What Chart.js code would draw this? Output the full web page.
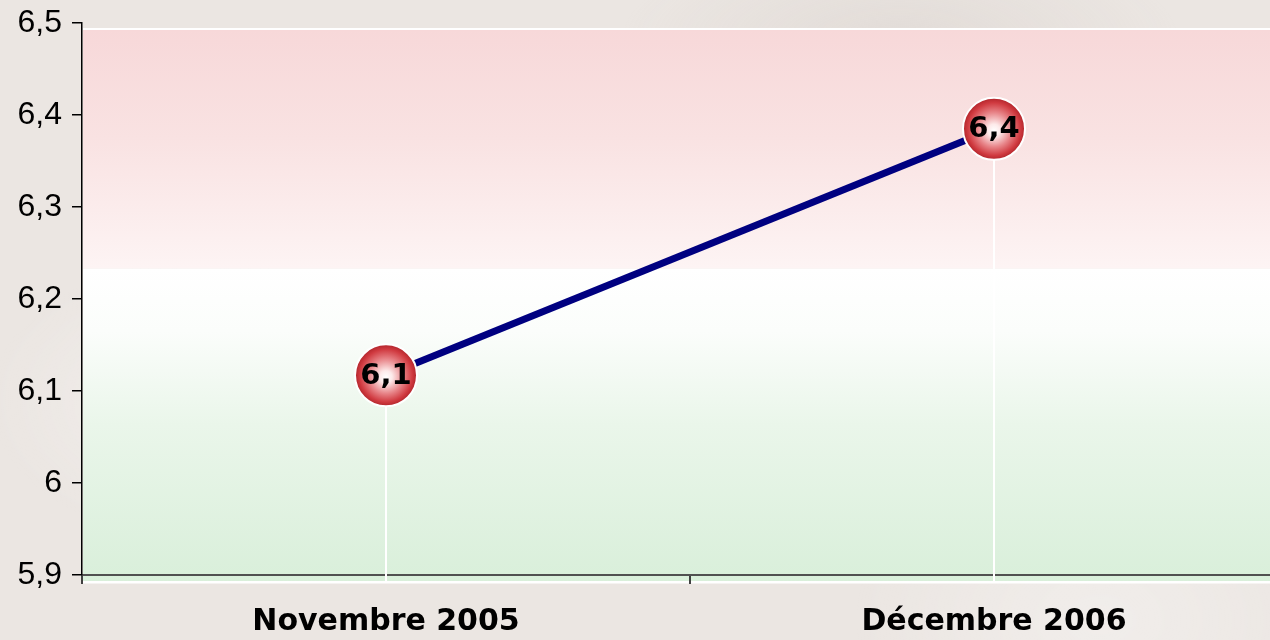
<!DOCTYPE html>
<html>
<head>
<meta charset="utf-8">
<script src="https://cdn.jsdelivr.net/npm/chart.js@4/dist/chart.umd.min.js"></script>
<style>
  html, body { margin: 0; padding: 0; overflow: hidden; }
  body {
    width: 1270px; height: 640px;
    background:
      radial-gradient(ellipse 300px 200px at 200px 400px, rgba(255,255,255,0.35), rgba(255,255,255,0) 70%),
      radial-gradient(ellipse 400px 150px at 900px 40px, rgba(200,190,185,0.25), rgba(200,190,185,0) 70%),
      radial-gradient(ellipse 350px 250px at 1100px 620px, rgba(255,255,255,0.3), rgba(255,255,255,0) 70%),
      #ebe6e2;
  }
  #wrap { position: absolute; left: 0; top: 0; width: 1298px; height: 640px; }
</style>
</head>
<body>
<div id="wrap"><canvas id="chart"></canvas></div>
<script>
const categories = ['Novembre 2005', 'Décembre 2006'];
const values = [6.117, 6.385];
const yMin = 5.9, yMax = 6.5, yStep = 0.1;

const fmt = v => (Math.round(v * 10) / 10).toFixed(1).replace('.', ',');

// coloured plot background (pink band on top, white-to-green below)
const bgPlugin = {
  id: 'bg',
  beforeDraw(chart) {
    const { ctx, chartArea: a, scales } = chart;
    const shift = 7;
    const top = a.top + shift, bottom = a.bottom + shift;
    const split = scales.y.getPixelForValue(6.233);
    const left = a.left + 1, right = a.right;
    ctx.save();
    let g = ctx.createLinearGradient(0, top, 0, split);
    g.addColorStop(0, '#f7d8d9');
    g.addColorStop(0.45, '#f9e2e2');
    g.addColorStop(1, '#fdf4f4');
    ctx.fillStyle = g;
    ctx.fillRect(left, top, right - left, split - top);
    g = ctx.createLinearGradient(0, split, 0, bottom);
    g.addColorStop(0, '#ffffff');
    g.addColorStop(0.2, '#fbfdfb');
    g.addColorStop(0.5, '#eaf6ea');
    g.addColorStop(1, '#d9efda');
    ctx.fillStyle = g;
    ctx.fillRect(left, split, right - left, bottom - split);
    ctx.fillStyle = '#ffffff';
    ctx.fillRect(left, top - 2, right - left, 2);
    ctx.fillRect(left, bottom - 1, right - left, 2.5);
    ctx.restore();
  },
  beforeDatasetsDraw(chart) {
    // white drop lines from each point to the axis
    const { ctx, chartArea: a } = chart;
    const meta = chart.getDatasetMeta(0);
    ctx.save();
    ctx.strokeStyle = '#ffffff';
    ctx.lineWidth = 2;
    meta.data.forEach(p => {
      ctx.beginPath();
      ctx.moveTo(p.x, p.y);
      ctx.lineTo(p.x, a.bottom + 6);
      ctx.stroke();
    });
    ctx.restore();
  },
  afterDatasetsDraw(chart) {
    const { ctx } = chart;
    const meta = chart.getDatasetMeta(0);
    ctx.save();
    meta.data.forEach((p, i) => {
      const r = 31;
      const g = ctx.createRadialGradient(p.x, p.y + 2, 0, p.x, p.y, r);
      g.addColorStop(0, '#ffffff');
      g.addColorStop(0.2, '#fdeaea');
      g.addColorStop(0.55, '#e8868a');
      g.addColorStop(0.85, '#d03a40');
      g.addColorStop(1, '#b0242a');
      ctx.beginPath();
      ctx.arc(p.x, p.y, r, 0, Math.PI * 2);
      ctx.fillStyle = g;
      ctx.fill();
      ctx.lineWidth = 2;
      ctx.strokeStyle = '#ffffff';
      ctx.stroke();
      ctx.fillStyle = '#000000';
      ctx.font = 'bold 29px "DejaVu Sans"';
      ctx.textAlign = 'center';
      ctx.textBaseline = 'middle';
      ctx.fillText(fmt(values[i]), p.x, p.y + 1);
    });
    ctx.restore();
  }
};

new Chart(document.getElementById('chart'), {
  type: 'line',
  data: {
    labels: categories,
    datasets: [{
      data: values,
      borderColor: '#000080',
      borderWidth: 7,
      pointRadius: 0,
      tension: 0
    }]
  },
  options: {
    responsive: true,
    maintainAspectRatio: false,
    animation: false,
    layout: { padding: { top: 23, right: 0, left: 0, bottom: 0 } },
    plugins: { legend: { display: false }, tooltip: { enabled: false } },
    scales: {
      x: {
        offset: true,
        grid: { offset: true, drawOnChartArea: false, color: '#404040', tickLength: 9, lineWidth: 2 },
        border: { color: '#505050', width: 2 },
        ticks: {
          color: '#000000',
          padding: 20,
          font: { family: '"DejaVu Sans"', weight: 'bold', size: 30 }
        },
        afterFit(scale) { scale.height = 65; }
      },
      y: {
        min: yMin, max: yMax,
        grid: { drawOnChartArea: false, color: '#000000', tickLength: 10, lineWidth: 1.5 },
        border: { color: '#000000', width: 1.5 },
        ticks: {
          stepSize: yStep,
          color: '#000000',
          padding: 10,
          font: { family: '"Liberation Sans"', size: 32 },
          callback: v => (Math.abs(v - 6) < 1e-9 ? '6' : v.toFixed(1).replace('.', ','))
        },
        afterFit(scale) { scale.width = 82; scale.paddingTop = 0; scale.paddingBottom = 0; }
      }
    }
  },
  plugins: [bgPlugin]
});
</script>
</body>
</html>
